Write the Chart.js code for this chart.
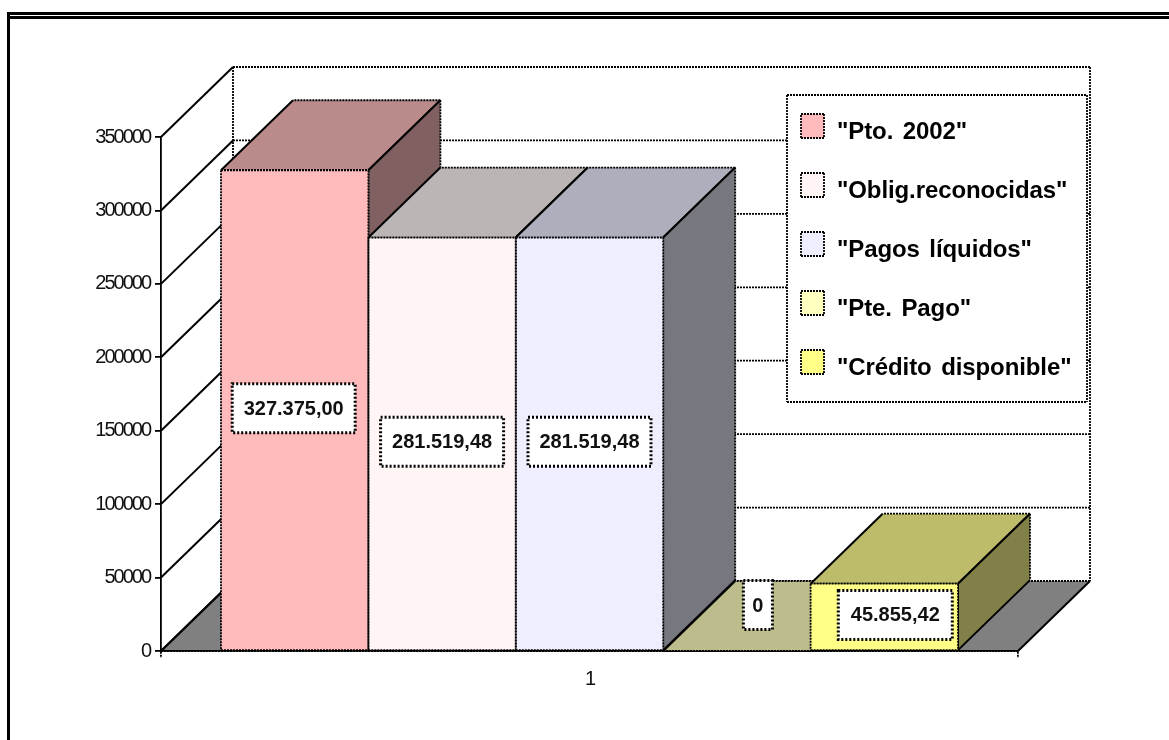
<!DOCTYPE html>
<html>
<head>
<meta charset="utf-8">
<style>
  html, body { margin: 0; padding: 0; background: #fff; }
  canvas { display: block; }
</style>
<script src="https://cdn.jsdelivr.net/npm/chart.js@4/dist/chart.umd.min.js"></script>
</head>
<body>
<canvas id="grafico" width="1169" height="740"></canvas>
<script>
/* datos */
var categorias = ["1"];
var nombres = ['"Pto. 2002"', '"Oblig.reconocidas"', '"Pagos líquidos"', '"Pte. Pago"', '"Crédito disponible"'];
var valores = [327375.00, 281519.48, 281519.48, 0, 45855.42];
var etiquetas = ["327.375,00", "281.519,48", "281.519,48", "0", "45.855,42"];

/* colores */
var frente = ["#FFBBBB", "#FFF5F5", "#EEEEFF", "#FFFFBF", "#FFFF88"];
var arriba = ["#BB8B8B", "#BBB5B5", "#AEAEBC", "#BCBC8C", "#BCBC6A"];
var lado = ["#806060", "#807B7B", "#77777F", "#80805F", "#808048"];

/* profundidad 3d y ajustes de etiquetas */
var fondoX = 72, fondoY = -70;
var ajusteEtiqueta = [[-1, -2], [0, -2], [0, -2], [21, -46], [11, -2]];
var anchoEtiqueta = [123, 123, 123, 29, 114];
var altoEtiqueta = 49;
var puntos = [2, 1];

function linea(ctx, x1, y1, x2, y2, rayada) {
  ctx.save();
  ctx.strokeStyle = "#000";
  ctx.lineWidth = rayada ? 1.8 : 2;
  ctx.setLineDash(rayada ? puntos : []);
  ctx.beginPath();
  ctx.moveTo(x1, y1);
  ctx.lineTo(x2, y2);
  ctx.stroke();
  ctx.restore();
}

function poligono(ctx, pts, color) {
  ctx.save();
  ctx.fillStyle = color;
  ctx.beginPath();
  ctx.moveTo(pts[0][0], pts[0][1]);
  for (var i = 1; i < pts.length; i++) ctx.lineTo(pts[i][0], pts[i][1]);
  ctx.closePath();
  ctx.fill();
  ctx.restore();
  for (var j = 0; j < pts.length; j++) {
    var a = pts[j], b = pts[(j + 1) % pts.length];
    linea(ctx, a[0], a[1], b[0], b[1], a[0] === b[0] || a[1] === b[1]);
  }
}

/* paredes, suelo y marco */
var paredes = {
  id: "paredes",
  beforeDraw: function (chart) {
    var ctx = chart.ctx, a = chart.chartArea, y = chart.scales.y;
    ctx.save();
    ctx.fillStyle = "#000";
    ctx.fillRect(7, 12, 3, 728);
    ctx.fillRect(7, 12, 1162, 3);
    ctx.fillRect(7, 16, 1162, 3);
    ctx.restore();

    poligono(ctx, [[a.left, a.bottom], [a.right, a.bottom], [a.right + fondoX, a.bottom + fondoY], [a.left + fondoX, a.bottom + fondoY]], "#808080");

    y.ticks.forEach(function (t) {
      var py = y.getPixelForValue(t.value);
      linea(ctx, a.left, py, a.left + fondoX, py + fondoY, false);
      linea(ctx, a.left + fondoX, py + fondoY, a.right + fondoX, py + fondoY, true);
    });
    linea(ctx, a.left + fondoX, a.top + fondoY, a.left + fondoX, a.bottom + fondoY, true);
    linea(ctx, a.right + fondoX, a.top + fondoY, a.right + fondoX, a.bottom + fondoY, true);

    ctx.letterSpacing = "-2px";
  }
};

/* caras de arriba y de lado, contorno y etiquetas */
var barras3d = {
  id: "barras3d",
  beforeDatasetsDraw: function (chart) {
    var ctx = chart.ctx;
    valores.forEach(function (v, i) {
      var b = chart.getDatasetMeta(i).data[0];
      var x1 = b.x - b.width / 2, x2 = b.x + b.width / 2;
      poligono(ctx, [[x1, b.y], [x2, b.y], [x2 + fondoX, b.y + fondoY], [x1 + fondoX, b.y + fondoY]], arriba[i]);
      if (b.base - b.y > 0) {
        poligono(ctx, [[x2, b.y], [x2 + fondoX, b.y + fondoY], [x2 + fondoX, b.base + fondoY], [x2, b.base]], lado[i]);
      }
    });
  },
  afterDatasetsDraw: function (chart) {
    var ctx = chart.ctx;
    valores.forEach(function (v, i) {
      var b = chart.getDatasetMeta(i).data[0];
      var x1 = b.x - b.width / 2, x2 = b.x + b.width / 2;
      linea(ctx, x1, b.y, x2, b.y, true);
      linea(ctx, x1, b.y, x1, b.base, true);
      linea(ctx, x2, b.y, x2, b.base, true);
      linea(ctx, x1, b.base, x2, b.base, true);
    });
  },
  afterDraw: function (chart) {
    var ctx = chart.ctx;
    ctx.letterSpacing = "0px";
    valores.forEach(function (v, i) {
      var b = chart.getDatasetMeta(i).data[0];
      var cx = b.x + ajusteEtiqueta[i][0];
      var cy = (b.y + b.base) / 2 + ajusteEtiqueta[i][1];
      var w = anchoEtiqueta[i];
      ctx.save();
      ctx.fillStyle = "#fff";
      ctx.fillRect(cx - w / 2, cy - altoEtiqueta / 2, w, altoEtiqueta);
      ctx.strokeStyle = "#000";
      ctx.lineWidth = 3;
      ctx.setLineDash([2, 2]);
      ctx.strokeRect(cx - w / 2, cy - altoEtiqueta / 2, w, altoEtiqueta);
      ctx.fillStyle = "#111";
      ctx.font = "bold 20px 'Liberation Sans'";
      ctx.textAlign = "center";
      ctx.textBaseline = "middle";
      ctx.fillText(etiquetas[i], cx, cy + 1);
      ctx.restore();
    });

    /* leyenda */
    ctx.save();
    ctx.fillStyle = "#fff";
    ctx.fillRect(787, 95, 300, 307);
    ctx.restore();
    linea(ctx, 787, 95, 1087, 95, true);
    linea(ctx, 787, 402, 1087, 402, true);
    linea(ctx, 787, 95, 787, 402, true);
    linea(ctx, 1087, 95, 1087, 402, true);
    nombres.forEach(function (n, i) {
      var y = 114 + i * 59;
      poligono(ctx, [[801, y], [824, y], [824, y + 24], [801, y + 24]], frente[i]);
      ctx.save();
      ctx.fillStyle = "#000";
      ctx.font = "bold 24px 'Liberation Sans'";
      ctx.letterSpacing = "-0.1px";
      ctx.wordSpacing = "3px";
      ctx.textAlign = "left";
      ctx.textBaseline = "alphabetic";
      ctx.fillText(n, 837, y + 25);
      ctx.restore();
    });
  }
};

var conjuntos = nombres.map(function (n, i) {
  return {
    label: n,
    data: [valores[i]],
    backgroundColor: frente[i],
    borderWidth: 0,
    barPercentage: 1,
    categoryPercentage: 0.86
  };
});

var ctx = document.getElementById("grafico").getContext("2d");
var chart = new Chart(ctx, {
  type: "bar",
  data: { labels: categorias, datasets: conjuntos },
  plugins: [paredes, barras3d],
  options: {
    responsive: false,
    animation: false,
    layout: { padding: { left: 10, right: 151, top: 137, bottom: 50 } },
    plugins: { legend: { display: false }, tooltip: { enabled: false } },
    scales: {
      x: {
        afterFit: function (s) { s.height = 39; },
        grid: { drawOnChartArea: false, color: "#000", tickLength: 7, lineWidth: 1.8, tickBorderDash: puntos },
        border: { color: "#000", width: 1.8, dash: puntos },
        ticks: { color: "#111", font: { family: "'Liberation Sans'", size: 20 }, padding: 9 }
      },
      y: {
        min: 0,
        max: 350000,
        afterFit: function (s) { s.width = 151; },
        grid: { drawOnChartArea: false, color: "#000", tickLength: 6, lineWidth: 1.8 },
        border: { color: "#000", width: 1.8, dash: puntos },
        ticks: {
          stepSize: 50000,
          color: "#111",
          padding: 5,
          font: { family: "'Liberation Sans'", size: 20 },
          callback: function (v) { return String(v); }
        }
      }
    }
  }
});
</script>
</body>
</html>
